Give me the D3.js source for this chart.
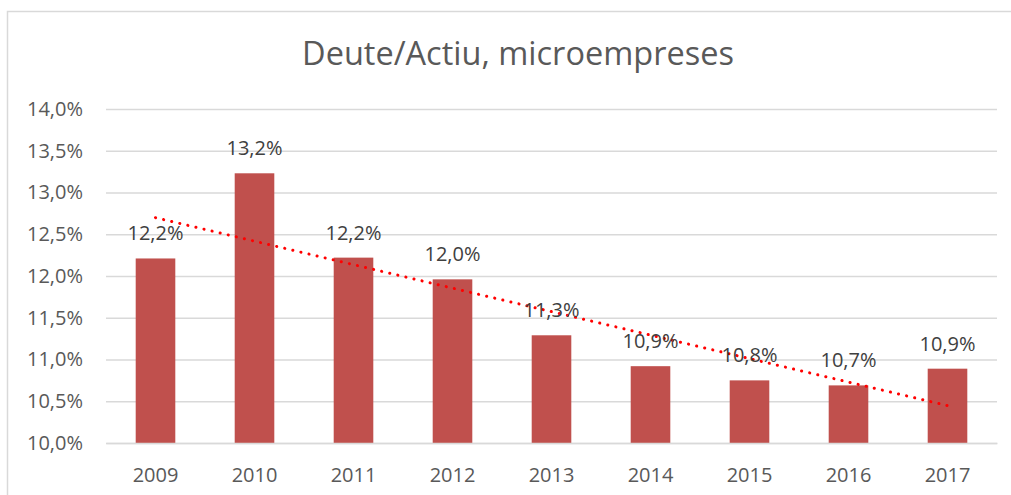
<!DOCTYPE html>
<html>
<head>
<meta charset="utf-8">
<script src="https://cdn.jsdelivr.net/npm/d3@7"></script>
<style>
  body { margin: 0; background: #fff; }
  svg { display: block; font-family: "Open Sans", "Noto Sans", sans-serif; }
</style>
</head>
<body>
<div id="chart"></div>
<script>
const FRAME_WIDTH = 1011;
const FRAME_HEIGHT = 495;
const MARGINS = {left: 106, right: 14, top: 109, bottom: 52};

const TITLE = "Deute/Actiu, microempreses";
const YEARS = ["2009", "2010", "2011", "2012", "2013", "2014", "2015", "2016", "2017"];
const VALUES = [12.21, 13.23, 12.22, 11.96, 11.29, 10.92, 10.75, 10.69, 10.89];
const Y_TICKS = [10.0, 10.5, 11.0, 11.5, 12.0, 12.5, 13.0, 13.5, 14.0];

const BAR_COLOR = "#C0504D";
const TEXT_COLOR = "#595959";
const FONT = "'Open Sans', 'Noto Sans', sans-serif";

const VIS_WIDTH = FRAME_WIDTH - MARGINS.left - MARGINS.right;
const VIS_HEIGHT = FRAME_HEIGHT - MARGINS.top - MARGINS.bottom;

const fmt = (v) => v.toFixed(1).replace(".", ",") + "%";

const FRAME = d3.select("#chart")
  .append("svg")
    .attr("width", FRAME_WIDTH)
    .attr("height", FRAME_HEIGHT);

// chart border (only top and left visible in the crop)
FRAME.append("rect")
  .attr("x", 7.5).attr("y", 11.5)
  .attr("width", FRAME_WIDTH + 20).attr("height", FRAME_HEIGHT + 20)
  .attr("fill", "none")
  .attr("stroke", "#d9d9d9")
  .attr("stroke-width", 1.5);

FRAME.append("text")
  .attr("x", 518).attr("y", 65)
  .attr("text-anchor", "middle")
  .attr("font-size", "32.5px")
  .attr("fill", TEXT_COLOR)
  .text(TITLE);

const X_SCALE = d3.scaleBand()
  .domain(YEARS)
  .range([0, VIS_WIDTH])
  .paddingInner(0.6)
  .paddingOuter(0.3);

const Y_SCALE = d3.scaleLinear()
  .domain([10, 14])
  .range([VIS_HEIGHT, 0]);

const G = FRAME.append("g")
  .attr("transform", "translate(" + MARGINS.left + "," + MARGINS.top + ")");

// gridlines + y labels
const yAxis = G.append("g")
  .call(d3.axisLeft(Y_SCALE).tickValues(Y_TICKS).tickFormat(fmt)
    .tickSize(-VIS_WIDTH).tickPadding(23));
yAxis.select(".domain").remove();
yAxis.selectAll(".tick line").attr("stroke", "#d9d9d9").attr("stroke-width", 1.5);
yAxis.selectAll(".tick text")
  .attr("fill", TEXT_COLOR)
  .attr("font-size", "20px")
  .attr("font-family", FONT);

// bars
G.selectAll(".bar")
  .data(VALUES)
  .enter()
  .append("rect")
    .attr("class", "bar")
    .attr("x", (d, i) => X_SCALE(YEARS[i]))
    .attr("y", (d) => Y_SCALE(d))
    .attr("width", X_SCALE.bandwidth())
    .attr("height", (d) => VIS_HEIGHT - Y_SCALE(d))
    .attr("fill", BAR_COLOR);

// x axis
const xAxis = G.append("g")
  .attr("transform", "translate(0," + VIS_HEIGHT + ")")
  .call(d3.axisBottom(X_SCALE).tickSize(0).tickPadding(25));
xAxis.select(".domain").attr("stroke", "#d9d9d9").attr("stroke-width", 1.5);
xAxis.selectAll(".tick text")
  .attr("fill", TEXT_COLOR)
  .attr("font-size", "20px")
  .attr("font-family", FONT);

// linear trendline (least squares on the bar values)
const n = VALUES.length;
const mx = d3.mean(VALUES, (d, i) => i);
const my = d3.mean(VALUES);
const slope = d3.sum(VALUES, (d, i) => (i - mx) * (d - my)) / d3.sum(VALUES, (d, i) => (i - mx) * (i - mx));
const icpt = my - slope * mx;
const cx = (i) => X_SCALE(YEARS[i]) + X_SCALE.bandwidth() / 2;

G.append("line")
  .attr("x1", cx(0)).attr("y1", Y_SCALE(icpt))
  .attr("x2", cx(n - 1)).attr("y2", Y_SCALE(icpt + slope * (n - 1)))
  .attr("stroke", "#FF0000")
  .attr("stroke-width", 3)
  .attr("stroke-linecap", "round")
  .attr("stroke-dasharray", "0.1 8.2");

// data labels
G.selectAll(".label")
  .data(VALUES)
  .enter()
  .append("text")
    .attr("class", "label")
    .attr("x", (d, i) => cx(i))
    .attr("y", (d) => Y_SCALE(d) - 18)
    .attr("text-anchor", "middle")
    .attr("font-size", "20px")
    .attr("fill", "#404040")
    .text(fmt);
</script>
</body>
</html>
